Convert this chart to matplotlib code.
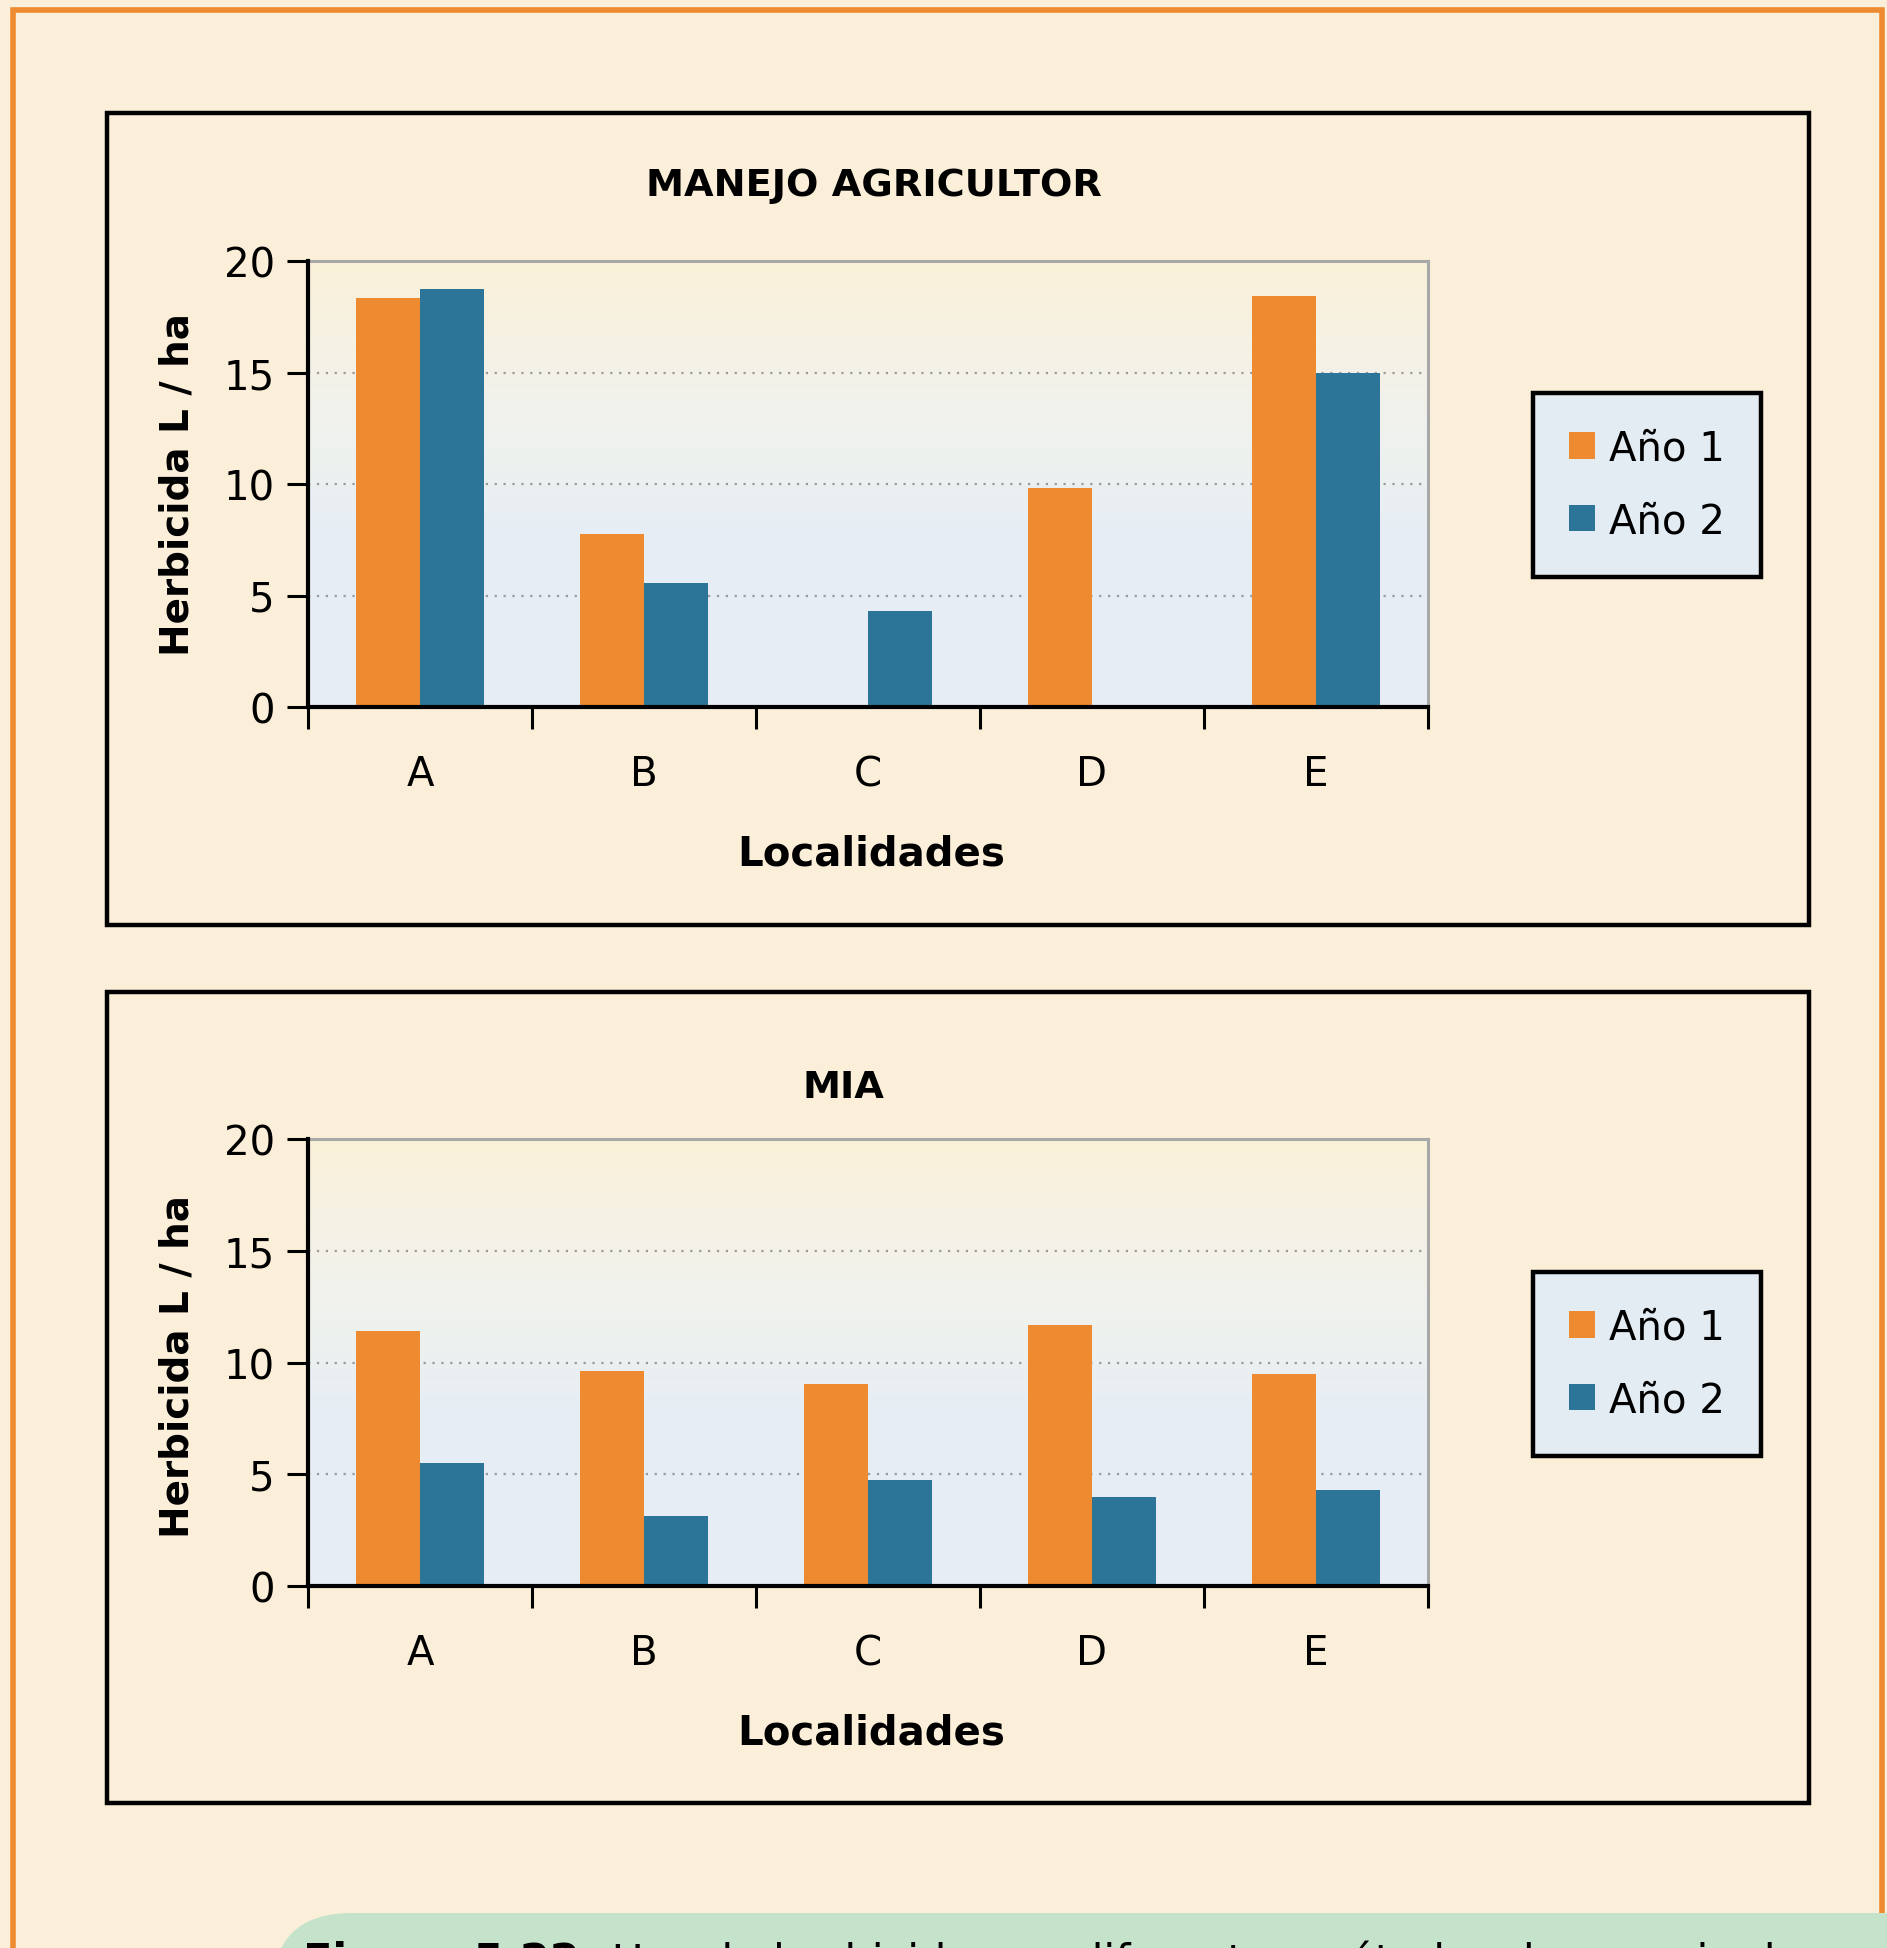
import numpy as np
import matplotlib
matplotlib.use("Agg")
import matplotlib.pyplot as plt
from matplotlib.patches import Rectangle, FancyBboxPatch, Patch
from matplotlib.colors import LinearSegmentedColormap

# data
localidades = ['A', 'B', 'C', 'D', 'E']
series_names = ['Año 1', 'Año 2']
agricultor_ano1 = [18.35, 7.75, 0.0, 9.8, 18.45]
agricultor_ano2 = [18.75, 5.55, 4.3, 0.0, 15.0]
mia_ano1 = [11.4, 9.6, 9.05, 11.7, 9.5]
mia_ano2 = [5.5, 3.15, 4.75, 4.0, 4.3]
yticks = [0, 5, 10, 15, 20]

ORANGE = '#EE8A30'
BLUE = '#2D7598'
CREAM = '#FBEFD9'
W, H = 1887, 1949

plt.rcParams['font.family'] = ['DejaVu Sans']

fig = plt.figure(figsize=(W / 100, H / 100), dpi=100, facecolor=CREAM)

# orange outer frame
fig.patches.append(Rectangle((13 / W, -0.05), (1882 - 13) / W, (H - 11) / H + 0.05,
                             transform=fig.transFigure, fill=False,
                             edgecolor=ORANGE, lw=4, zorder=0))

grad = LinearSegmentedColormap.from_list('bg', [
    (0.0, '#E6EDF5'), (0.40, '#E7EEF4'), (0.55, '#EDF1EF'),
    (0.70, '#F2F2EB'), (0.85, '#F6F1E2'), (1.0, '#FAF0D8')])


def panel(box_top, box_bot, ax_top, ax_bot, title, title_x, title_y, xl_y, yl_y,
          leg_y, v1, v2):
    # black panel frame
    fig.patches.append(Rectangle((107 / W, 1 - box_bot / H), (1809 - 107) / W,
                                 (box_bot - box_top) / H, transform=fig.transFigure,
                                 fill=False, edgecolor='black', lw=3.2, zorder=1))
    ax = fig.add_axes([308 / W, 1 - ax_bot / H, 1120 / W, (ax_bot - ax_top) / H])
    ax.set_facecolor('none')
    ax.imshow(np.linspace(0, 1, 256).reshape(-1, 1), cmap=grad, origin='lower',
              extent=[0, 1, 0, 1], transform=ax.transAxes, aspect='auto', zorder=0)
    x = np.arange(len(localidades))
    w = 0.285
    ax.bar(x - w / 2, v1, width=w, color=ORANGE, zorder=3)
    ax.bar(x + w / 2, v2, width=w, color=BLUE, zorder=3)
    for yv in yticks[1:-1]:
        ax.axhline(yv, color='#9A9A9A', lw=1.6, ls=(0, (1, 3)), zorder=1)
    ax.set_xlim(-0.5, len(localidades) - 0.5)
    ax.set_ylim(0, 20)
    ax.set_yticks(yticks)
    ax.set_yticklabels([str(t) for t in yticks], fontsize=29)
    ax.set_xticks(np.arange(len(localidades) + 1) - 0.5)
    ax.set_xticklabels([])
    ax.set_xticks(x, minor=True)
    ax.set_xticklabels(localidades, minor=True, fontsize=29)
    ax.tick_params(axis='x', which='major', direction='out', length=16, width=2.2, color='black')
    ax.tick_params(axis='x', which='minor', length=0, pad=34)
    ax.tick_params(axis='y', direction='out', length=15, width=2.2, pad=9)
    for s in ['left', 'bottom']:
        ax.spines[s].set_color('black')
        ax.spines[s].set_linewidth(3)
        ax.spines[s].set_zorder(5)
    for s in ['top', 'right']:
        ax.spines[s].set_color('#A8A8A8')
        ax.spines[s].set_linewidth(2.2)
    fig.text(title_x / W, 1 - title_y / H, title, fontsize=27.5, fontweight='bold',
             ha='center', va='center')
    fig.text(871 / W, 1 - xl_y / H, 'Localidades', fontsize=29, fontweight='bold',
             ha='center', va='center')
    fig.text(178 / W, 1 - yl_y / H, 'Herbicida L / ha', fontsize=28, fontweight='bold',
             ha='center', va='center', rotation=90)
    handles = [Patch(facecolor=ORANGE), Patch(facecolor=BLUE)]
    leg = ax.legend(handles, series_names, loc='center',
                    bbox_to_anchor=(1647 / W, 1 - leg_y / H),
                    bbox_transform=fig.transFigure, fontsize=29, frameon=True,
                    fancybox=False, handlelength=0.65, handleheight=0.65,
                    handletextpad=0.35, labelspacing=0.8, borderpad=0.9,
                    borderaxespad=0)
    fr = leg.get_frame()
    fr.set_facecolor('#E3EBF3')
    fr.set_edgecolor('black')
    fr.set_linewidth(3.2)
    fr.set_alpha(1)
    return ax


panel(114, 926, 262, 708, 'MANEJO AGRICULTOR', 874, 186, 855, 485, 486,
      agricultor_ano1, agricultor_ano2)
panel(993, 1804, 1140, 1587, 'MIA', 843, 1088, 1734, 1367, 1365,
      mia_ano1, mia_ano2)

# green caption box (cut off at the bottom edge, as in the page)
fig.patches.append(FancyBboxPatch((272, -120), 1800, 1949 - 1914 + 120,
                                  boxstyle='round,pad=0,rounding_size=80',
                                  transform=None, facecolor='#C5E3CB',
                                  edgecolor='none', zorder=2))
t1 = fig.text(303 / W, 1 - 1941 / H, 'Figura 5.22.', fontsize=31, fontweight='bold',
              ha='left', va='top', zorder=3)
renderer = fig.canvas.get_renderer()
x_end = t1.get_window_extent(renderer).x1
fig.text((x_end + 16) / W, 1 - 1941 / H,
         'Uso de herbicidas en diferentes métodos de manejo de',
         fontsize=31, ha='left', va='top', zorder=3)

fig.savefig('out.png', dpi=100, facecolor=CREAM)
